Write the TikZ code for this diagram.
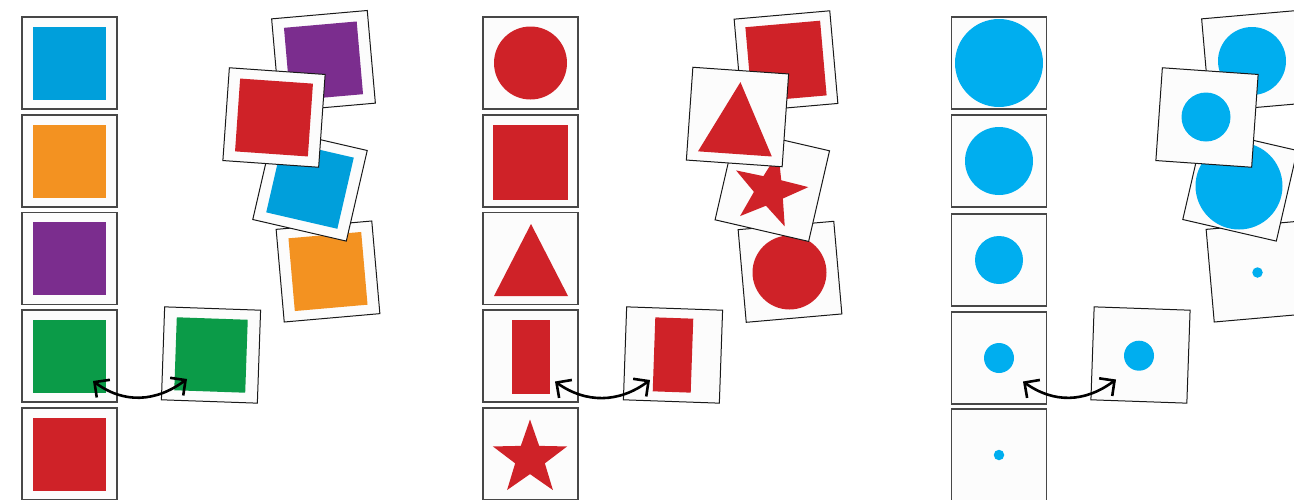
\documentclass[tikz,border=0pt]{standalone}
\usetikzlibrary{shapes.geometric,arrows.meta}
\definecolor{cblue}{HTML}{009FDB}
\definecolor{corange}{HTML}{F39221}
\definecolor{cpurple}{HTML}{7B2D8E}
\definecolor{cgreen}{HTML}{0B9B48}
\definecolor{cred}{HTML}{CF2228}
\definecolor{ccyan}{HTML}{00AEEF}
\definecolor{cardfill}{HTML}{FCFCFC}
\tikzset{
  colcard/.style={draw=black!72, line width=1.3pt, fill=cardfill, minimum width=95pt, minimum height=92pt, inner sep=0pt, outer sep=0pt},
  loosecard/.style={draw=black!90, line width=1pt, fill=cardfill, minimum width=96pt, minimum height=93pt, inner sep=0pt, outer sep=0pt},
  sq/.style={fill=#1, minimum size=73pt, inner sep=0pt, outer sep=0pt},
  bigsq/.style={fill=cred, minimum size=75pt, inner sep=0pt, outer sep=0pt},
  bar/.style={fill=cred, minimum width=38pt, minimum height=74pt, inner sep=0pt, outer sep=0pt},
  dot/.style={circle, fill=#1, inner sep=0pt, outer sep=0pt},
  starshape/.style={star, star points=5, star point ratio=2.5, minimum size=78pt, fill=cred, inner sep=0pt, outer sep=0pt},
  swaparrow/.style={{Straight Barb[length=11pt,width=22pt,line width=2.6pt]}-{Straight Barb[length=11pt,width=22pt,line width=2.6pt]}, line width=2.6pt, black}
}
\begin{document}
\begin{tikzpicture}[x=1pt,y=-1pt]
\useasboundingbox (0,0) rectangle (1294,499);
\clip (0,0) rectangle (1294,499);

% ---------- Panel 1: colours ----------
\foreach \i/\yy/\c in {1/63/cblue,2/161/corange,3/258.5/cpurple,4/356/cgreen,5/454/cred} {
  \node[colcard] (k1\i) at (69.5,\yy) {};
  \node[sq=\c] (s1\i) at (k1\i) {};
}
\node[loosecard, rotate=5] (a1) at (323.5,61) {};
\node[sq=cpurple, rotate=5] (sa1) at (a1) {};
\node[loosecard, rotate=5] (d1) at (328,271.5) {};
\node[sq=corange, rotate=5] (sd1) at (d1) {};
\node[loosecard, rotate=-13] (c1) at (310,185) {};
\node[sq=cblue, rotate=-13] (sc1) at (c1) {};
\node[loosecard, rotate=-4] (b1) at (274,117.5) {};
\node[sq=cred, rotate=-4] (sb1) at (b1) {};
\node[loosecard, rotate=-2] (e1) at (211,355) {};
\node[sq=cgreen, minimum width=71pt, rotate=-2] (se1) at (e1) {};
\coordinate (l1) at (93,381);
\coordinate (r1) at (187,379);
\draw[swaparrow] (l1) .. controls +(31,23) and +(-31,23) .. (r1);

% ---------- Panel 2: shapes ----------
\foreach \i/\yy in {1/63,2/161,3/258.5,4/356,5/454} {
  \node[colcard] (k2\i) at (530.5,\yy) {};
}
\node[dot=cred, minimum size=73pt] (s21) at (530.5,63) {};
\node[bigsq] (s22) at (530.5,162.5) {};
\fill[cred] (531,224) -- (568,296) -- (494,296) -- cycle;
\node[bar] (s24) at (531,357) {};
\node[starshape] (s25) at (530,458.5) {};

\node[loosecard, rotate=5] (a2) at (786,61.3) {};
\node[bigsq, rotate=5] (sa2) at (a2) {};
\node[loosecard, rotate=5] (d2) at (790,271.8) {};
\node[dot=cred, minimum size=74pt] (sd2) at (789.5,272.5) {};
\node[loosecard, rotate=-13] (c2) at (772.3,185.3) {};
\node[starshape, rotate=-13] (sc2) at (769.5,190.5) {};
\node[loosecard, rotate=-4] (b2) at (737.5,117) {};
\begin{scope}[shift={(b2.center)}, rotate=-4]
  \fill[cred] (0.5,-35) -- (37,37) -- (-37,37) -- cycle;
\end{scope}
\node[loosecard, rotate=-2] (e2) at (673,355) {};
\node[bar, rotate=-2] (se2) at (e2) {};
\coordinate (l2) at (555,381.5);
\coordinate (r2) at (650,380);
\draw[swaparrow] (l2) .. controls +(31,22) and +(-31,23) .. (r2);

% ---------- Panel 3: sizes ----------
\foreach \i/\yy/\rr in {1/63/88,2/161/68,3/260/48,4/358/30,5/455/10.5} {
  \node[colcard] (k3\i) at (999,\yy) {};
  \node[dot=ccyan, minimum size=\rr pt] (s3\i) at (999,\yy) {};
}
\node[loosecard, rotate=5] (a3) at (1253.5,61) {};
\node[dot=ccyan, minimum size=68pt] (sa3) at (1252,61) {};
\node[loosecard, rotate=5] (d3) at (1258,271.5) {};
\node[dot=ccyan, minimum size=10.5pt] (sd3) at (1257.5,272.5) {};
\node[loosecard, rotate=-13] (c3) at (1240,185) {};
\node[dot=ccyan, minimum size=87pt] (sc3) at (1239,186) {};
\node[loosecard, rotate=-4] (b3) at (1207,117.5) {};
\node[dot=ccyan, minimum size=49pt] (sb3) at (1206,117) {};
\node[loosecard, rotate=-2] (e3) at (1140.5,355) {};
\node[dot=ccyan, minimum size=30pt] (se3) at (1139,355.7) {};
\coordinate (l3) at (1023,381.5);
\coordinate (r3) at (1116,379.5);
\draw[swaparrow] (l3) .. controls +(31,22) and +(-31,23) .. (r3);
\end{tikzpicture}
\end{document}
